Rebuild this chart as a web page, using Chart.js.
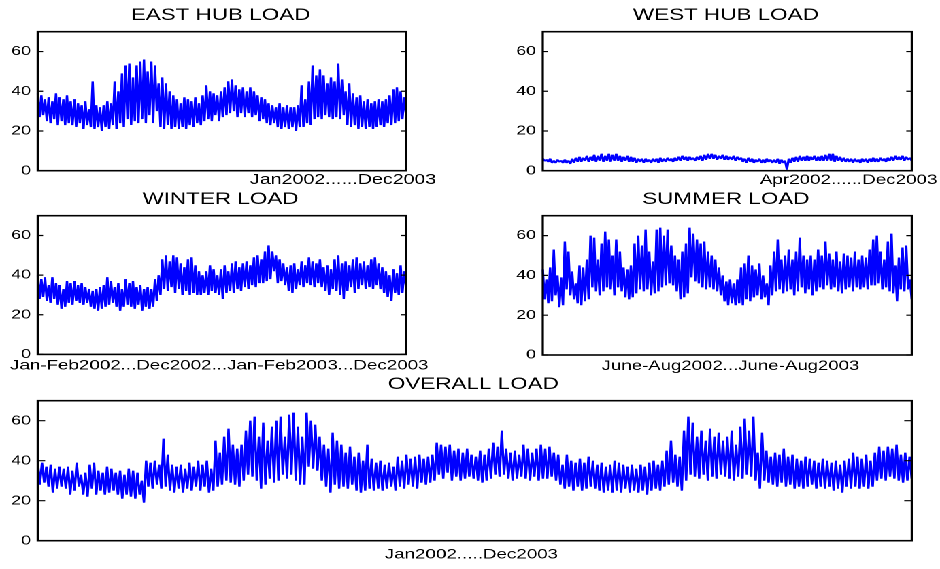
<!DOCTYPE html>
<html>
<head>
<meta charset="utf-8">
<script src="https://cdn.jsdelivr.net/npm/chart.js@4.4.1/dist/chart.umd.min.js"></script>
<style>
  html, body { margin: 0; padding: 0; background: #fff; overflow: hidden; }
  /* the reference figure is stretched horizontally, so draw narrow and stretch */
  #fig { position: absolute; left: 0; top: 0; width: 691px; height: 569px; transform: scaleX(1.3604); transform-origin: 0 0; }
  #fig canvas { position: absolute; left: 0; top: 0; }
</style>
</head>
<body>
<div id="fig">
  <canvas id="east" width="691" height="569"></canvas>
  <canvas id="west" width="691" height="569"></canvas>
  <canvas id="winter" width="691" height="569"></canvas>
  <canvas id="summer" width="691" height="569"></canvas>
  <canvas id="overall" width="691" height="569"></canvas>
</div>
<script>
const yTicks = [0, 20, 40, 60];

const panelTitles = ['EAST HUB LOAD', 'WEST HUB LOAD', 'WINTER LOAD', 'SUMMER LOAD', 'OVERALL LOAD'];
const panelXLabels = [
  'Jan2002......Dec2003',
  'Apr2002......Dec2003',
  'Jan-Feb2002...Dec2002...Jan-Feb2003...Dec2003',
  'June-Aug2002...June-Aug2003',
  'Jan2002.....Dec2003'
];

// load values (daily high / low swings)
const eastLoad = [
  39,27, 38,28, 36,25, 37,24, 35,26, 39,23, 37,25, 36,23, 38,24, 35,23,
  36,22, 34,24, 33,21, 35,23, 31,22, 45,21, 33,22, 32,20, 33,22, 35,21,
  34,23, 45,21, 40,24, 49,22, 53,26, 54,23, 47,25, 53,24, 55,26, 56,24,
  50,28, 55,24, 53,30, 44,22, 47,21, 44,23, 40,21, 38,22, 36,21, 34,22,
  37,21, 36,23, 35,22, 37,24, 34,23, 38,25, 43,26, 40,25, 39,28, 38,25,
  40,27, 42,28, 45,29, 46,30, 43,27, 41,29, 42,27, 40,29, 42,27, 40,28,
  38,25, 37,26, 36,24, 34,23, 33,24, 32,22, 34,21, 32,22, 33,21, 32,22,
  32,20, 33,22, 43,22, 36,24, 45,23, 53,26, 48,27, 51,26, 48,28, 44,27,
  47,26, 45,27, 54,26, 46,28, 40,23, 44,22, 39,23, 37,21, 38,22, 35,21,
  36,22, 34,21, 35,22, 36,23, 35,22, 36,24, 38,23, 41,24, 42,25, 40,26,
  37,28
];

const westLoad = [
  6,5, 5.5,4.5, 6,4, 5,4, 5.5,4.5, 5,4, 5.5,4, 5,3.5, 6,4, 6.5,4.5,
  7,4.5, 6.5,5, 7.5,4.5, 7,5, 8,4.5, 7.5,5, 8.5,4.5, 7.5,5, 8.5,4.5, 8,5,
  8.5,5, 7.5,4.5, 7,5, 7.5,4.5, 7,4.5, 6.5,4, 6,4.5, 6,4, 6,4.5, 5.5,4,
  6,4.5, 6,4, 6.5,4.5, 6,4.5, 6.5,5, 6,4.5, 6.5,5, 7,5, 7.5,5.5, 7,5,
  7,5.5, 6.5,5, 7,5.5, 7.5,5, 8,5.5, 8.5,6, 8.5,6, 8,5.5, 7.5,6, 8,5.5,
  7.5,5.5, 7,5.5, 7.5,5, 7,5.5, 6.5,4.5, 6,4, 6.5,4.5, 6,4, 5.5,4.5, 6,4,
  5.5,4, 6,4.5, 5.5,4, 5.5,4, 6,3.5, 5.5,4, 5,0.5, 6,4, 6.5,4.5, 7,4.5,
  7.5,5, 7,5, 7.5,5, 7,5.5, 7.5,5, 7,5, 7.5,5, 8,5, 8.5,5, 8.5,4.5,
  7.5,5, 7,4.5, 6.5,4.5, 6,4.5, 6,4, 6,4.5, 5.5,4, 6,4.5, 6,4, 6,4.5,
  6.5,4.5, 6,4.5, 6.5,5, 6,4.5, 6.5,5, 7,5, 7.5,5.5, 7,5.5, 7.5,5, 7,5.5,
  6.5,5
];

const winterLoad = [
  40,28, 38,29, 39,27, 35,26, 39,28, 36,25, 35,23, 33,24, 37,26, 36,25,
  37,27, 35,26, 36,25, 34,26, 33,24, 32,23, 33,22, 34,23, 35,24, 39,25,
  37,26, 34,24, 36,22, 33,24, 38,25, 36,24, 37,23, 34,25, 35,22, 33,24,
  34,23, 33,24, 38,27, 40,30, 48,33, 50,32, 47,34, 50,31, 49,33, 46,30,
  44,32, 48,30, 49,31, 45,30, 42,30, 40,31, 42,30, 45,32, 43,31, 40,30,
  43,28, 45,31, 42,32, 46,31, 47,33, 44,32, 46,34, 47,33, 45,35, 49,34,
  50,36, 48,36, 52,37, 55,38, 52,42, 50,36, 48,37, 46,35, 44,32, 45,31,
  46,33, 43,35, 47,34, 45,36, 49,35, 47,34, 46,36, 48,34, 44,32, 45,30,
  43,33, 48,32, 50,30, 46,28, 47,32, 45,34, 48,31, 49,33, 46,35, 47,33,
  45,34, 48,33, 49,35, 46,33, 44,31, 42,29, 40,27, 43,31, 41,30, 45,31,
  42,34
];

const summerLoad = [
  43,28, 38,26, 44,27, 53,30, 40,24, 39,25, 57,33, 52,30, 42,28, 36,26,
  45,25, 44,27, 48,28, 60,34, 59,32, 48,30, 56,32, 62,34, 58,33, 50,30,
  58,34, 52,32, 44,29, 43,28, 45,29, 56,31, 60,33, 55,32, 63,33, 52,30,
  47,31, 63,32, 64,34, 60,35, 63,36, 55,35, 50,32, 48,28, 52,29, 56,31,
  64,39, 61,37, 58,36, 56,34, 57,33, 52,34, 50,33, 48,32, 44,30, 40,27,
  37,25, 38,26, 36,25, 38,26, 44,25, 46,28, 50,27, 45,29, 43,30, 46,28,
  40,29, 36,25, 45,30, 52,32, 58,33, 48,31, 50,32, 53,33, 48,30, 52,32,
  59,34, 50,31, 48,33, 50,30, 48,32, 53,34, 50,33, 57,35, 51,33, 48,34,
  52,32, 47,31, 51,33, 50,34, 49,32, 52,34, 48,33, 50,34, 49,33, 53,35,
  58,35, 60,36, 52,33, 48,34, 57,32, 61,31, 45,27, 49,33, 54,32, 55,33,
  38,28
];

const overallLoad = [
  40,28, 39,29, 37,27, 38,24, 36,26, 37,27, 36,26, 37,23, 35,25, 39,27,
  33,23, 34,22, 38,26, 39,23, 35,25, 34,23, 37,24, 36,25, 34,23, 35,21,
  33,23, 36,22, 35,21, 34,23, 30,19, 40,27, 39,26, 40,28, 38,26, 51,27,
  43,25, 38,24, 37,26, 38,24, 36,26, 39,25, 37,27, 40,25, 38,27, 40,24,
  36,25, 50,27, 44,28, 52,30, 56,29, 48,28, 46,27, 48,30, 55,33, 60,32,
  62,30, 52,26, 59,28, 50,31, 57,29, 60,30, 62,33, 52,31, 63,33, 64,30,
  57,28, 52,28, 64,37, 60,36, 58,35, 52,30, 48,27, 46,24, 54,28, 50,26,
  48,27, 44,26, 47,28, 42,25, 44,24, 40,25, 48,26, 41,25, 39,26, 40,25,
  38,26, 39,27, 37,25, 42,27, 40,26, 43,28, 41,27, 42,26, 43,29, 41,28,
  42,29, 43,30, 49,33, 48,31, 47,34, 48,30, 45,32, 46,30, 44,31, 46,32,
  43,31, 42,30, 45,29, 43,30, 46,31, 49,33, 47,32, 55,33, 46,31, 44,30,
  45,31, 43,32, 48,31, 46,30, 44,32, 46,30, 48,31, 46,31, 47,32, 44,30,
  43,28, 38,26, 43,27, 40,25, 39,27, 41,25, 39,26, 42,27, 40,26, 38,25,
  39,24, 37,25, 38,24, 40,25, 39,24, 38,26, 37,24, 38,25, 36,24, 38,25,
  37,23, 39,25, 40,26, 38,25, 40,27, 45,28, 50,29, 43,27, 42,25, 55,30,
  62,33, 59,32, 52,31, 55,33, 50,30, 56,32, 52,31, 54,33, 50,32, 52,31,
  55,30, 48,32, 57,31, 61,33, 55,32, 62,30, 44,26, 54,30, 45,29, 42,28,
  44,27, 43,29, 46,27, 42,28, 43,26, 41,27, 40,26, 42,27, 41,28, 40,26,
  39,27, 41,26, 40,27, 39,25, 40,26, 38,24, 40,27, 41,26, 44,27, 42,26,
  41,27, 43,26, 40,27, 44,30, 47,31, 45,30, 47,32, 46,31, 48,30, 43,29,
  44,30, 42,31
];

// figure layout, in unstretched px: [left, top, right, bottom] of each axes box
const FIG_W = 691, FIG_H = 569, Y_AXIS_W = 27;
const FONT = '"Liberation Sans", Arial, Helvetica, sans-serif';

const panels = [
  { id: 'east',    data: eastLoad,    title: panelTitles[0], xlabel: panelXLabels[0], box: [27.7, 31.7, 298.5, 170.7], align: 'left',   dx: 20.7, dy: 13.3, size: 14.4, tick: 4 },
  { id: 'west',    data: westLoad,    title: panelTitles[1], xlabel: panelXLabels[1], box: [399.0, 31.7, 670.2, 170.7], align: 'left',   dx: 24,   dy: 13.3, size: 13.8, tick: 4 },
  { id: 'winter',  data: winterLoad,  title: panelTitles[2], xlabel: panelXLabels[2], box: [27.7, 215.7, 298.5, 354.4], align: 'center', dx: -1.9, dy: 15,   size: 13.8, tick: 4 },
  { id: 'summer',  data: summerLoad,  title: panelTitles[3], xlabel: panelXLabels[3], box: [399.0, 215.7, 670.2, 355.0], align: 'center', dx: 2.4,  dy: 15,   size: 13.7, tick: 4 },
  { id: 'overall', data: overallLoad, title: panelTitles[4], xlabel: panelXLabels[4], box: [27.7, 400.7, 670.2, 540.7], align: 'center', dx: -2.4, dy: 18,   size: 13.8, tick: 5.5 }
];

// box, inward tick marks, title and x label, MATLAB style
const framePlugin = {
  id: 'frame',
  afterDatasetsDraw(chart, args, opts) {
    const { ctx, chartArea: a } = chart;
    const y = chart.scales.y;
    ctx.save();
    ctx.strokeStyle = '#000';
    ctx.lineWidth = 1.6;
    ctx.strokeRect(a.left, a.top, a.right - a.left, a.bottom - a.top);
    ctx.lineWidth = 1.2;
    ctx.beginPath();
    yTicks.forEach(v => {
      const py = y.getPixelForValue(v);
      ctx.moveTo(a.left, py); ctx.lineTo(a.left + opts.tick, py);
      ctx.moveTo(a.right, py); ctx.lineTo(a.right - opts.tick, py);
    });
    ctx.stroke();

    const cx = (a.left + a.right) / 2;
    ctx.fillStyle = '#000';
    ctx.textBaseline = 'alphabetic';
    ctx.font = '16.5px ' + FONT;
    ctx.textAlign = 'center';
    ctx.fillText(opts.title, cx - 1, a.top - 11.5);
    ctx.font = opts.size + 'px ' + FONT;
    ctx.textAlign = opts.align;
    ctx.fillText(opts.xlabel, cx + opts.dx, a.bottom + opts.dy);
    ctx.restore();
  }
};

panels.forEach(p => {
  new Chart(document.getElementById(p.id), {
    type: 'line',
    data: {
      labels: p.data.map((_, i) => i),
      datasets: [{
        data: p.data,
        borderColor: '#0000ff',
        borderWidth: 1.7,
        borderJoinStyle: 'bevel',
        pointRadius: 0,
        tension: 0,
        fill: false
      }]
    },
    options: {
      responsive: false,
      animation: false,
      devicePixelRatio: 2,
      events: [],
      layout: {
        padding: {
          left: p.box[0] - Y_AXIS_W,
          top: p.box[1],
          right: FIG_W - p.box[2],
          bottom: FIG_H - p.box[3]
        }
      },
      plugins: {
        legend: { display: false },
        tooltip: { enabled: false },
        frame: { title: p.title, xlabel: p.xlabel, align: p.align, dx: p.dx, dy: p.dy, size: p.size, tick: p.tick }
      },
      scales: {
        x: { display: false },
        y: {
          min: 0,
          max: 70,
          grid: { display: false, drawTicks: false },
          border: { display: false },
          afterBuildTicks: s => { s.ticks = yTicks.map(v => ({ value: v })); },
          afterFit: s => { s.width = Y_AXIS_W; },
          ticks: { color: '#000', padding: 5, font: { family: FONT, size: 13 } }
        }
      }
    },
    plugins: [framePlugin]
  });
});
</script>
</body>
</html>
